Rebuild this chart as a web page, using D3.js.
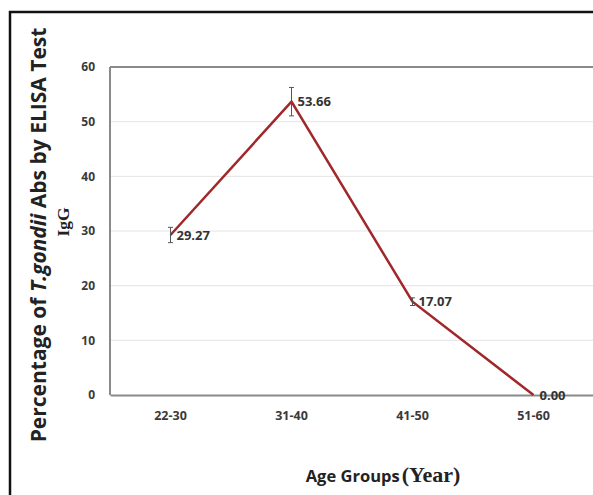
<!DOCTYPE html>
<html><head><meta charset="utf-8">
<script src="https://cdn.jsdelivr.net/npm/d3@7"></script>
<style>body{margin:0;background:#fff}svg{display:block}</style>
</head><body>
<svg id="c" width="593" height="495"></svg>
<script>
const categories = ["22-30","31-40","41-50","51-60"];
const values = [29.27, 53.66, 17.07, 0.00];
const errors = [1.4, 2.6, 0.7, 0];
const yTicks = [0,10,20,30,40,50,60];

const svg = d3.select("#c");
const W = 593, H = 495;
const x = d3.scaleBand().domain(categories).range([110, 594]);
const y = d3.scaleLinear().domain([0,60]).range([395, 67]);
const font = "'Open Sans', Lato, sans-serif";
const serif = "'Liberation Serif', 'DejaVu Serif', serif";

// outer frame
svg.append("rect").attr("x",10).attr("y",12).attr("width",W).attr("height",H)
  .attr("fill","none").attr("stroke","#111").attr("stroke-width",2.5);

// gridlines
svg.append("g").selectAll("line").data(yTicks.filter(d=>d>0 && d<60)).join("line")
  .attr("x1",110).attr("x2",594).attr("y1",d=>y(d)).attr("y2",d=>y(d))
  .attr("stroke","#e4e4e4").attr("stroke-width",1);

// plot box top and left
svg.append("line").attr("x1",110).attr("x2",594).attr("y1",y(60)).attr("y2",y(60))
  .attr("stroke","#8a8a8a").attr("stroke-width",2);
svg.append("line").attr("x1",110).attr("x2",110).attr("y1",y(60)).attr("y2",y(0))
  .attr("stroke","#8a8a8a").attr("stroke-width",2);

// y axis
const ya = svg.append("g").attr("transform","translate(110,0)")
  .call(d3.axisLeft(y).tickValues(yTicks).tickSize(0).tickPadding(15));
ya.select(".domain").remove();
ya.selectAll("text").attr("font-family",font).attr("font-weight","bold")
  .attr("font-size",12).attr("fill","#3a3a3a");

// x axis
const xa = svg.append("g").attr("transform","translate(0,395)")
  .call(d3.axisBottom(x).tickSize(0).tickPadding(16));
xa.select(".domain").attr("stroke","#8a8a8a").attr("stroke-width",2);
xa.selectAll("text").attr("font-family",font).attr("font-weight","bold")
  .attr("font-size",12.5).attr("fill","#3a3a3a");

const cx = d => x(d) + x.bandwidth()/2;
const pts = categories.map((c,i)=>({c, v:values[i], e:errors[i]}));

// line
svg.append("path").datum(pts)
  .attr("d", d3.line().x(d=>cx(d.c)).y(d=>y(d.v)))
  .attr("fill","none").attr("stroke","#a0282b").attr("stroke-width",2.5);

// error bars
const eb = svg.append("g").selectAll("g").data(pts.filter(d=>d.e>0)).join("g");
eb.append("line").attr("x1",d=>cx(d.c)).attr("x2",d=>cx(d.c))
  .attr("y1",d=>y(d.v+d.e)).attr("y2",d=>y(d.v-d.e)).attr("stroke","#555").attr("stroke-width",1);
eb.append("line").attr("x1",d=>cx(d.c)-2.5).attr("x2",d=>cx(d.c)+2.5)
  .attr("y1",d=>y(d.v+d.e)).attr("y2",d=>y(d.v+d.e)).attr("stroke","#555").attr("stroke-width",1);
eb.append("line").attr("x1",d=>cx(d.c)-2.5).attr("x2",d=>cx(d.c)+2.5)
  .attr("y1",d=>y(d.v-d.e)).attr("y2",d=>y(d.v-d.e)).attr("stroke","#555").attr("stroke-width",1);

// data labels
svg.append("g").selectAll("text").data(pts).join("text")
  .attr("x",d=>cx(d.c)+6).attr("y",d=>y(d.v)).attr("dy","0.36em")
  .attr("font-family",font).attr("font-weight","bold").attr("font-size",13)
  .attr("fill","#333").text(d=>d.v.toFixed(2));

// y title
const yt = svg.append("text").attr("transform","translate(46,235) rotate(-90)")
  .attr("text-anchor","middle").attr("font-family",font).attr("font-weight","bold")
  .attr("font-size",21).attr("fill","#222");
yt.append("tspan").text("Percentage of ");
yt.append("tspan").attr("font-style","italic").text("T.gondii");
yt.append("tspan").text(" Abs by ELISA Test");
svg.append("text").attr("transform","translate(69,222) rotate(-90)")
  .attr("text-anchor","middle").attr("font-family",serif)
  .attr("font-weight","bold").attr("font-size",17.5).attr("fill","#222").text("IgG");

// x title
const xt = svg.append("text").attr("x",383).attr("y",482).attr("text-anchor","middle")
  .attr("fill","#222");
xt.append("tspan").attr("font-family",font).attr("font-weight","bold").attr("font-size",16.5).text("Age Groups");
xt.append("tspan").attr("font-family",serif).attr("font-weight","bold").attr("font-size",22).attr("dx",2).text("(Year)");
</script>
</body></html>
